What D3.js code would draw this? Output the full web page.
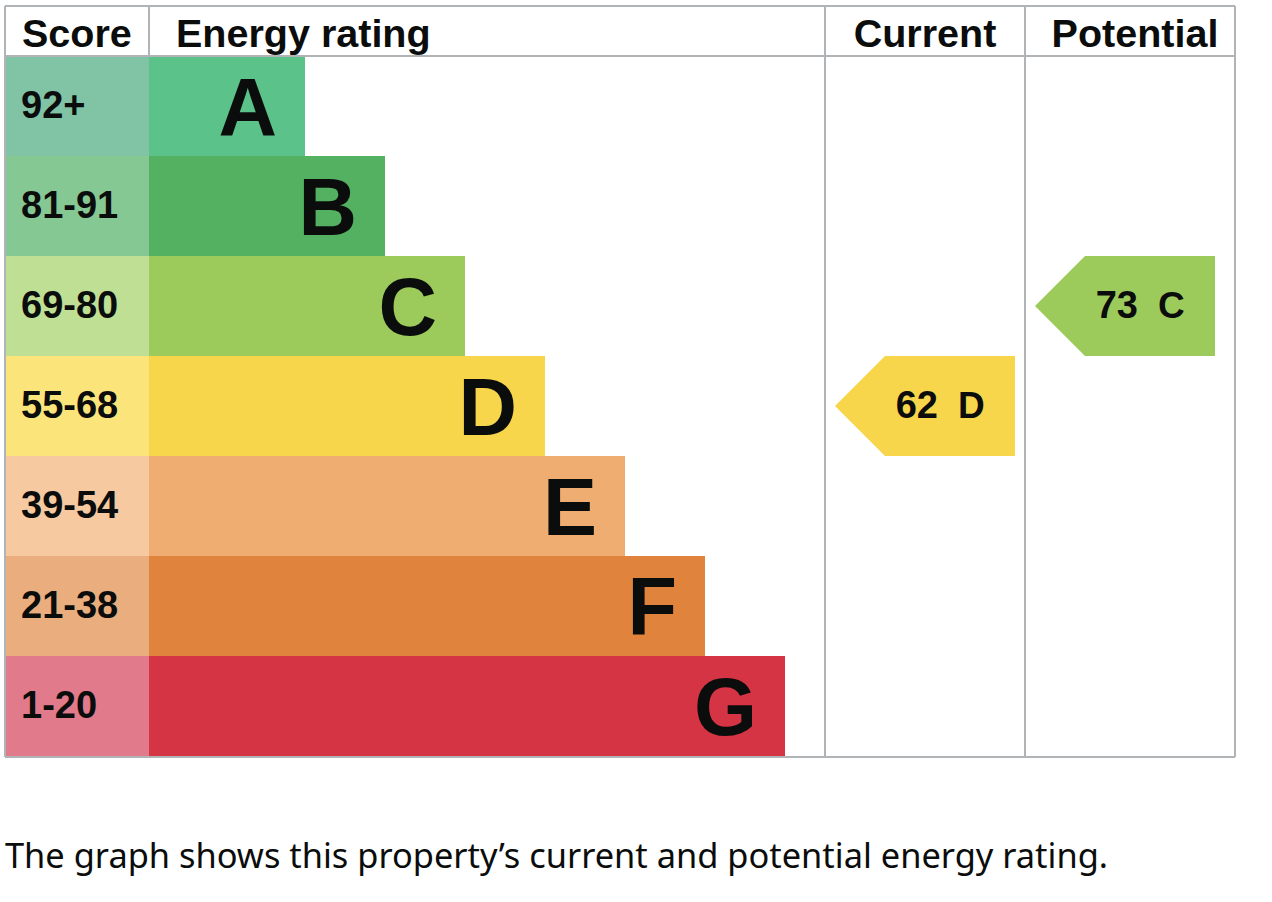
<!DOCTYPE html>
<html>
<head>
<meta charset="utf-8">
<script src="https://cdn.jsdelivr.net/npm/d3@7"></script>
<style>
  body { margin: 0; background: #fff; }
  text { font-family: "Liberation Sans", Arial, sans-serif; fill: #0b0c0c; }
  text.caption { font-family: "Noto Sans", sans-serif; }
</style>
</head>
<body>
<script>
// Rating bands, top to bottom
var ratings = ["A", "B", "C", "D", "E", "F", "G"];
var scoreLabels = ["92+", "81-91", "69-80", "55-68", "39-54", "21-38", "1-20"];
var bandMin = [92, 81, 69, 55, 39, 21, 1];
var barColors = ["#5bc389", "#53b161", "#9ccb5c", "#f7d64b", "#efad71", "#e0843d", "#d53444"];
var scoreColors = ["#80c4a5", "#86c893", "#bfe094", "#fbe57b", "#f6c9a0", "#eaad7d", "#e17a8a"];

var currentScore = 62;
var potentialScore = 73;
var columnTitles = ["Score", "Energy rating", "Current", "Potential"];
var caption = "The graph shows this property\u2019s current and potential energy rating.";

var width = 1272, height = 902;
var gLeft = 5, gRight = 1235, gTop = 6, headerBottom = 56, gBottom = 756;
var scoreRight = 149, currentLeft = 825, potentialLeft = 1025;

var svg = d3.select("body").append("svg")
  .attr("width", width)
  .attr("height", height);

// rows
var y = d3.scaleBand()
  .domain(ratings)
  .range([headerBottom, gBottom]);

// bar end grows by rating index
var xEnd = d3.scaleLinear()
  .domain([0, ratings.length - 1])
  .range([305, 785]);

function ratingFor(score) {
  return ratings[bandMin.findIndex(m => score >= m)];
}

var rows = svg.selectAll(".row")
  .data(ratings)
  .enter()
  .append("g")
  .attr("class", "row");

rows.append("rect")
  .attr("x", gLeft)
  .attr("y", d => y(d))
  .attr("width", scoreRight - gLeft)
  .attr("height", y.bandwidth())
  .attr("fill", (d, i) => scoreColors[i]);

rows.append("rect")
  .attr("x", scoreRight)
  .attr("y", d => y(d))
  .attr("width", (d, i) => xEnd(i) - scoreRight)
  .attr("height", y.bandwidth())
  .attr("fill", (d, i) => barColors[i]);

rows.append("text")
  .attr("x", 21)
  .attr("y", d => y(d) + y.bandwidth() / 2 + 12)
  .attr("font-size", 38)
  .attr("font-weight", "bold")
  .text((d, i) => scoreLabels[i]);

rows.append("text")
  .attr("x", (d, i) => xEnd(i) - 28)
  .attr("y", d => y(d) + y.bandwidth() / 2 + 29)
  .attr("text-anchor", "end")
  .attr("font-size", 81)
  .attr("font-weight", "bold")
  .text(d => d);

// grid lines
var grey = "#b1b4b6";
var lines = [
  [gLeft, gTop, gRight, gTop],
  [gLeft, headerBottom, gRight, headerBottom],
  [gLeft, gBottom + 1, gRight, gBottom + 1],
  [gLeft, gTop, gLeft, gBottom + 1],
  [gRight, gTop, gRight, gBottom + 1],
  [scoreRight, gTop, scoreRight, headerBottom],
  [currentLeft, gTop, currentLeft, gBottom + 1],
  [potentialLeft, gTop, potentialLeft, gBottom + 1]
];
svg.selectAll(".grid")
  .data(lines)
  .enter()
  .append("line")
  .attr("x1", d => d[0]).attr("y1", d => d[1])
  .attr("x2", d => d[2]).attr("y2", d => d[3])
  .attr("stroke", grey)
  .attr("stroke-width", 2);

// header
var titleX = [22, 176, 925, 1135];
svg.selectAll(".title")
  .data(columnTitles)
  .enter()
  .append("text")
  .attr("x", (d, i) => titleX[i])
  .attr("y", 47)
  .attr("text-anchor", (d, i) => i < 2 ? "start" : "middle")
  .attr("font-size", 39.5)
  .attr("font-weight", "bold")
  .text(d => d);

// arrows
var arrows = [
  { score: currentScore, x0: currentLeft + 10 },
  { score: potentialScore, x0: potentialLeft + 10 }
];
var arrowW = 180;

arrows.forEach(function (a) {
  var r = ratingFor(a.score);
  var i = ratings.indexOf(r);
  var y0 = y(r), h = y.bandwidth();
  var g = svg.append("g");
  g.append("path")
    .attr("d", d3.line()([
      [a.x0, y0 + h / 2],
      [a.x0 + h / 2, y0],
      [a.x0 + arrowW, y0],
      [a.x0 + arrowW, y0 + h],
      [a.x0 + h / 2, y0 + h]
    ]) + "Z")
    .attr("fill", barColors[i]);
  g.append("text")
    .attr("x", a.x0 + 103)
    .attr("y", y0 + h / 2 + 12)
    .attr("text-anchor", "end")
    .attr("font-size", 38)
    .attr("font-weight", "bold")
    .text(a.score);
  g.append("text")
    .attr("x", a.x0 + 123)
    .attr("y", y0 + h / 2 + 12)
    .attr("font-size", 37)
    .attr("font-weight", "bold")
    .text(r);
});

svg.append("text")
  .attr("class", "caption")
  .attr("x", 5)
  .attr("y", 868)
  .attr("font-size", 34.4)
  .text(caption);
</script>
</body>
</html>
